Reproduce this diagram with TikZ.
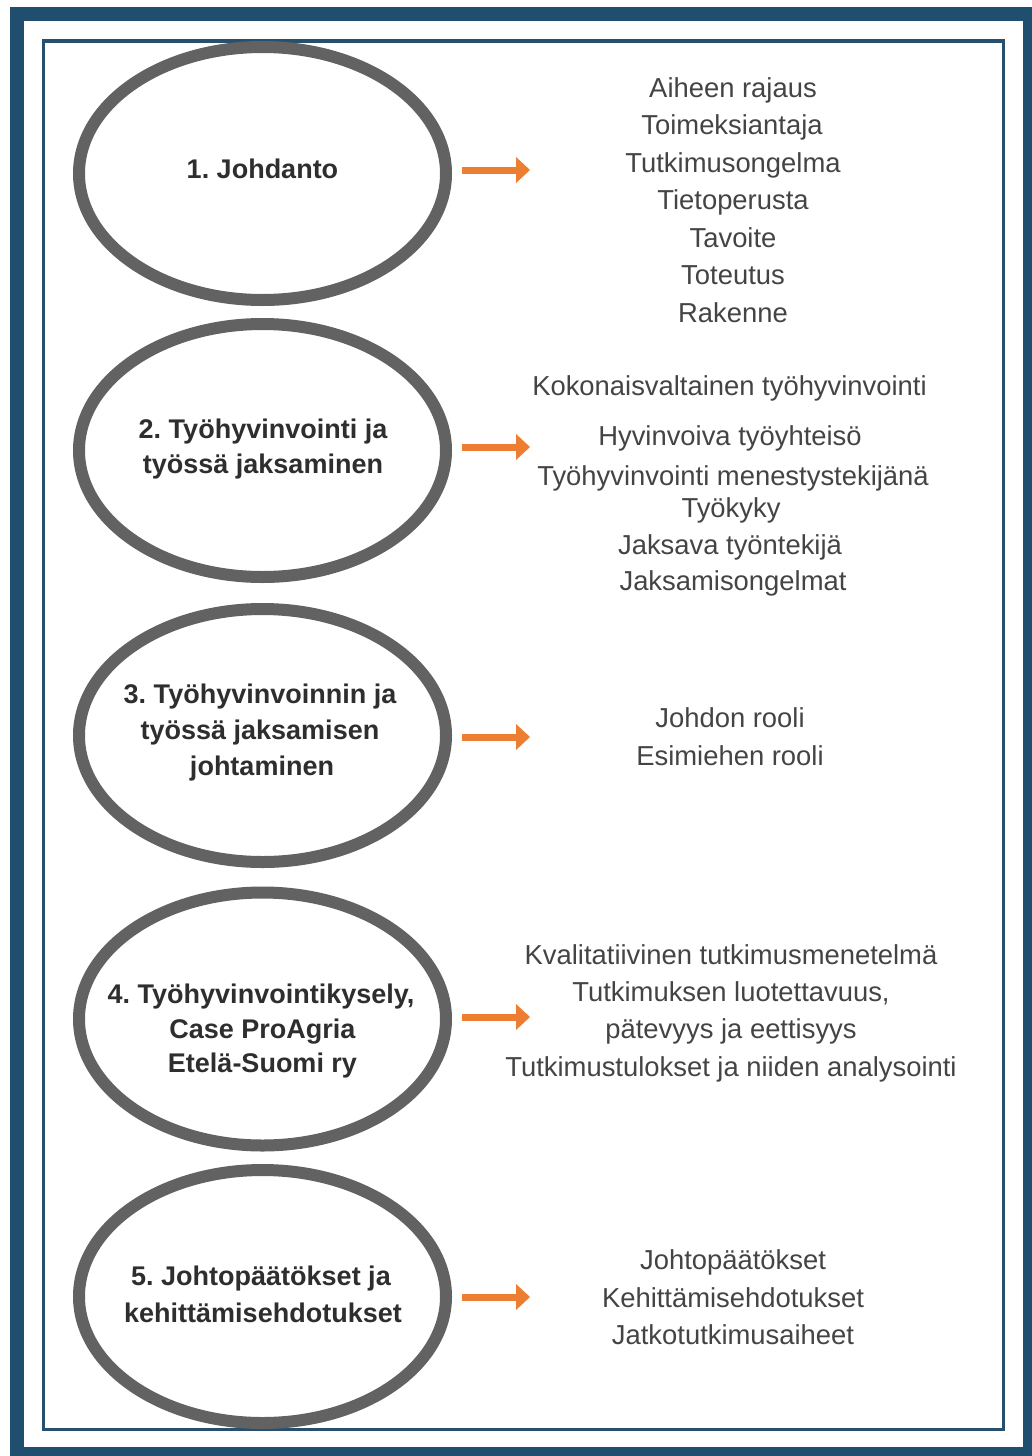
\documentclass[tikz,border=0pt]{standalone}
\usepackage{fontspec}
\setmainfont{Liberation Sans}
\usetikzlibrary{shapes.geometric,arrows.meta}
\definecolor{navy}{HTML}{1F4E6F}
\definecolor{navyline}{HTML}{26506E}
\definecolor{ringgray}{HTML}{626262}
\definecolor{arrorange}{HTML}{ED7D31}
\definecolor{txtgray}{HTML}{444444}
\definecolor{lblgray}{HTML}{2E2E2E}
\frenchspacing
\begin{document}
\begin{tikzpicture}[x=1pt,y=-1pt,
  ring/.style={draw=ringgray, line width=12pt, ellipse, minimum width=367pt, minimum height=253pt, inner sep=0pt},
  lbl/.style={anchor=base, inner sep=0pt, text=lblgray, font=\fontsize{27}{32}\selectfont\bfseries\frenchspacing},
  item/.style={anchor=base, inner sep=0pt, text=txtgray, font=\fontsize{27.4}{33}\selectfont\frenchspacing},
  arr/.style={draw=arrorange, line width=7pt, -{Triangle[length=14pt,width=26pt,line width=0pt]}}]
\useasboundingbox (0,0) rectangle (1032,1456);
\fill[white] (0,0) rectangle (1032,1456);
% frames
\draw[navy, line width=14pt] (17,13.5) rectangle (1029.5,1453.5);
\draw[navyline, line width=3.5pt] (43.5,41) rectangle (1003.5,1429.5);
% ellipses
\node[ring] (e1) at (262.5,173.5) {};
\node[ring] (e2) at (262.5,450.5) {};
\node[ring] (e3) at (262.5,735.5) {};
\node[ring] (e4) at (262.5,1019) {};
\node[ring] (e5) at (262.5,1296.5) {};
% labels
\node[lbl] (l1) at (262.5,178) {1. Johdanto};
\node[lbl] (l2a) at (263,438) {2. Työhyvinvointi ja};
\node[lbl] (l2b) at (263,473) {työssä jaksaminen};
\node[lbl] (l3a) at (260,703) {3. Työhyvinvoinnin ja};
\node[lbl] (l3b) at (260,739) {työssä jaksamisen};
\node[lbl] (l3c) at (262,775) {johtaminen};
\node[lbl] (l4a) at (261,1003) {4. Työhyvinvointikysely,};
\node[lbl] (l4b) at (262.5,1038) {Case ProAgria};
\node[lbl] (l4c) at (262.5,1072) {Etelä-Suomi ry};
\node[lbl] (l5a) at (261,1285) {5. Johtopäätökset ja};
\node[lbl] (l5b) at (263,1322) {kehittämisehdotukset};
% arrows
\coordinate (s1) at (462,170);  \coordinate (t1) at (530,170);
\coordinate (s2) at (462,447);  \coordinate (t2) at (530,447);
\coordinate (s3) at (462,737);  \coordinate (t3) at (530,737);
\coordinate (s4) at (462,1017); \coordinate (t4) at (530,1017);
\coordinate (s5) at (462,1297); \coordinate (t5) at (530,1297);
\draw[arr] (s1) -- (t1);
\draw[arr] (s2) -- (t2);
\draw[arr] (s3) -- (t3);
\draw[arr] (s4) -- (t4);
\draw[arr] (s5) -- (t5);
% group 1
\node[item] (g1a) at (733,97) {Aiheen rajaus};
\node[item] (g1b) at (732,134.5) {Toimeksiantaja};
\node[item] (g1c) at (733,172) {Tutkimusongelma};
\node[item] (g1d) at (733,209.5) {Tietoperusta};
\node[item] (g1e) at (733,247) {Tavoite};
\node[item] (g1f) at (733,284.5) {Toteutus};
\node[item] (g1g) at (733,322) {Rakenne};
% group 2
\node[item] (g2a) at (729.5,395) {Kokonaisvaltainen työhyvinvointi};
\node[item] (g2b) at (730,445) {Hyvinvoiva työyhteisö};
\node[item] (g2c) at (733,485) {Työhyvinvointi menestystekijänä};
\node[item] (g2d) at (731,517) {Työkyky};
\node[item] (g2e) at (730,554) {Jaksava työntekijä};
\node[item] (g2f) at (733,590) {Jaksamisongelmat};
% group 3
\node[item] (g3a) at (730,727) {Johdon rooli};
\node[item] (g3b) at (730,765) {Esimiehen rooli};
% group 4
\node[item] (g4a) at (731,964.5) {Kvalitatiivinen tutkimusmenetelmä};
\node[item] (g4b) at (731,1001.5) {Tutkimuksen luotettavuus,};
\node[item] (g4c) at (731,1038) {pätevyys ja eettisyys};
\node[item] (g4d) at (731,1076.5) {Tutkimustulokset ja niiden analysointi};
% group 5
\node[item] (g5a) at (733,1269) {Johtopäätökset};
\node[item] (g5b) at (733,1307) {Kehittämisehdotukset};
\node[item] (g5c) at (733,1344) {Jatkotutkimusaiheet};
\end{tikzpicture}
\end{document}
